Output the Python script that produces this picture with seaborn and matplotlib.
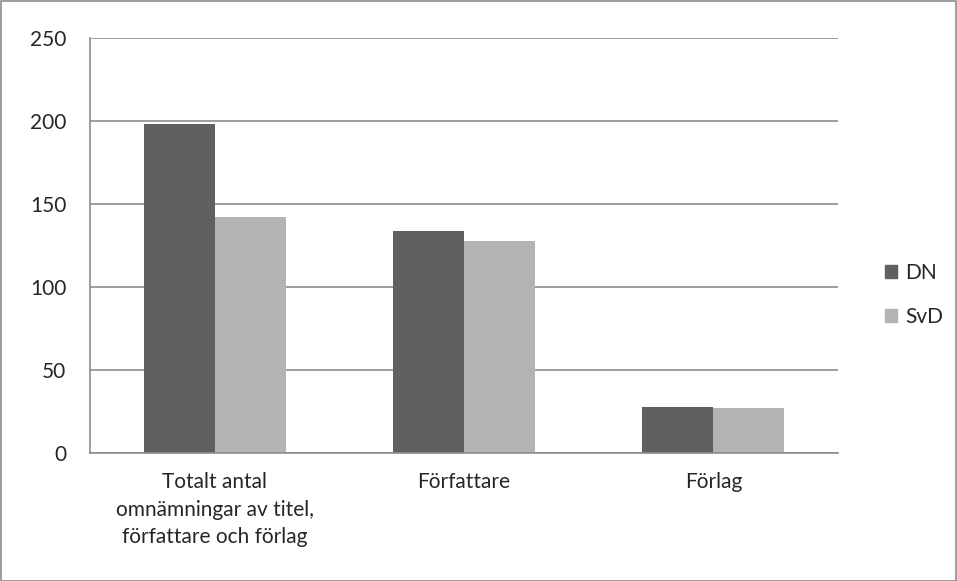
import matplotlib.pyplot as plt
import matplotlib.patches as mpatches
import seaborn as sns
import pandas as pd

# data
categories = ['Totalt antal\nomnämningar av titel,\nförfattare och förlag', 'Författare', 'Förlag']
dn = [198, 134, 28]
svd = [142, 128, 27]

df = pd.DataFrame({
    'kategori': categories * 2,
    'tidning': ['DN'] * 3 + ['SvD'] * 3,
    'antal': dn + svd,
})

sns.set_style('white')
plt.rcParams['font.family'] = ['Lato', 'DejaVu Sans']

fig = plt.figure(figsize=(9.57, 5.81), dpi=100)
ax = fig.add_axes([90 / 957, 1 - 453 / 581, 748 / 957, 415 / 581])

sns.barplot(data=df, x='kategori', y='antal', hue='tidning',
            palette=['#606060', '#b3b3b3'], width=0.57, ax=ax,
            saturation=1, edgecolor='none', legend=False)

ax.set_ylim(0, 250)
ax.set_xlim(-0.5, 2.5)
ax.set_yticks([0, 50, 100, 150, 200, 250])
ax.yaxis.grid(True, color='#8c8c8c', linewidth=1.2)
ax.set_axisbelow(True)
ax.set_xlabel('')
ax.set_ylabel('')

for s in ['top', 'right']:
    ax.spines[s].set_visible(False)
for s in ['left', 'bottom']:
    ax.spines[s].set_color('#8c8c8c')
    ax.spines[s].set_linewidth(1.2)

ax.set_xticks([0, 1, 2])
ax.set_xticklabels(categories, fontsize=15, va='top', ha='center', linespacing=1.45)
ax.tick_params(axis='x', length=0, pad=14)
ax.set_xticks([-0.5, 0.5, 1.5, 2.5], minor=True)
ax.tick_params(axis='x', which='minor', length=6, color='#8c8c8c', width=1.2, direction='out')
ax.tick_params(axis='y', labelsize=15, length=5, color='#8c8c8c', width=1.2, direction='out', pad=12)

handles = [mpatches.Patch(color='#606060', label='DN'),
           mpatches.Patch(color='#b3b3b3', label='SvD')]
fig.legend(handles=handles, loc='center left', bbox_to_anchor=(866 / 957, 1 - 295 / 581),
           frameon=False, fontsize=15, handlelength=0.6, handleheight=0.6,
           labelspacing=1.15, handletextpad=0.4)

fig.patches.append(mpatches.Rectangle((0.5 / 957, 0.5 / 581), 1 - 1.5 / 957, 1 - 1.5 / 581,
                                      transform=fig.transFigure, fill=False,
                                      edgecolor='#8c8c8c', linewidth=1.2))

fig.savefig('out.png', dpi=100)
